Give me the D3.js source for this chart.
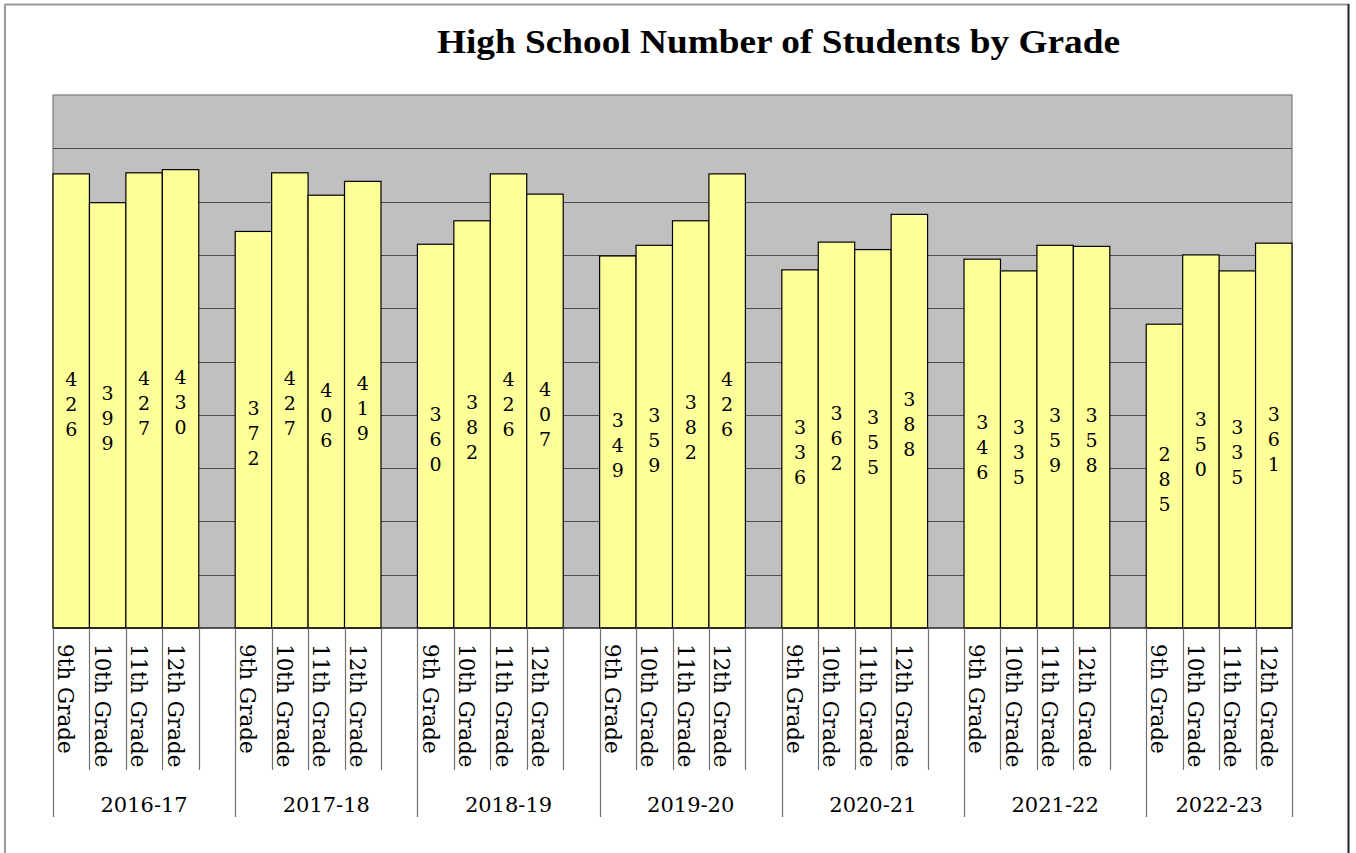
<!DOCTYPE html>
<html lang="en">
<head>
    <meta charset="UTF-8">
    <title>High School Number of Students by Grade</title>
    <script src="https://d3js.org/d3.v7.min.js"></script>
    <style>
        body { margin: 0; background: #fff; }
        svg { display: block; }
        .title { font-family: "Liberation Serif", serif; font-weight: bold; font-size: 34px; }
        .val { font-family: "DejaVu Serif", serif; font-size: 19px; }
        .cat { font-family: "DejaVu Serif", serif; font-size: 21.5px; }
        .year { font-family: "DejaVu Serif", serif; font-size: 21px; }
    </style>
</head>
<body>
<div id="chart"></div>
<script>
    // data
    const years = ["2016-17", "2017-18", "2018-19", "2019-20", "2020-21", "2021-22", "2022-23"];
    const grades = ["9th Grade", "10th Grade", "11th Grade", "12th Grade"];
    // one row per school year, columns follow grades
    const counts = [
        [426, 399, 427, 430],
        [372, 427, 406, 419],
        [360, 382, 426, 407],
        [349, 359, 382, 426],
        [336, 362, 355, 388],
        [346, 335, 359, 358],
        [285, 350, 335, 361]
    ];
    const yTicks = [0, 50, 100, 150, 200, 250, 300, 350, 400, 450, 500];

    const width = 1356, height = 853;
    const plot = { left: 53, right: 1292, top: 95, bottom: 628 };

    // flat category list, with an empty slot after every year but the last
    const cats = [];
    years.forEach((yr, i) => {
        grades.forEach((g, j) => cats.push({ key: i + "-" + j, year: i, grade: g, value: counts[i][j] }));
        if (i < years.length - 1) cats.push({ key: i + "-gap", year: i, grade: null, value: null });
    });

    const x = d3.scaleBand().domain(cats.map(d => d.key)).range([plot.left, plot.right]).padding(0);
    const y = d3.scaleLinear().domain([0, 500]).range([plot.bottom, plot.top]);

    const svg = d3.select("#chart").append("svg")
        .attr("width", width)
        .attr("height", height);

    // outer frame
    svg.append("line").attr("x1", 5).attr("x2", 1349).attr("y1", 4.5).attr("y2", 4.5)
        .attr("stroke", "#999").attr("stroke-width", 2);
    svg.append("line").attr("x1", 5).attr("x2", 5).attr("y1", 4).attr("y2", 860)
        .attr("stroke", "#999").attr("stroke-width", 2);
    svg.append("line").attr("x1", 1348.5).attr("x2", 1348.5).attr("y1", 4).attr("y2", 860)
        .attr("stroke", "#222").attr("stroke-width", 2);

    // title
    svg.append("text")
        .attr("class", "title")
        .attr("x", 437).attr("y", 53)
        .attr("textLength", 683)
        .attr("lengthAdjust", "spacingAndGlyphs")
        .text("High School Number of Students by Grade");

    // plot background
    svg.append("rect")
        .attr("x", plot.left).attr("y", plot.top)
        .attr("width", plot.right - plot.left).attr("height", plot.bottom - plot.top)
        .attr("fill", "#C0C0C0")
        .attr("stroke", "#7a7a7a").attr("stroke-width", 1.2);

    // gridlines
    svg.append("g").selectAll("line")
        .data(yTicks.filter(t => t > 0 && t < 500))
        .enter().append("line")
        .attr("x1", plot.left).attr("x2", plot.right)
        .attr("y1", d => Math.round(y(d)) + 0.5).attr("y2", d => Math.round(y(d)) + 0.5)
        .attr("stroke", "#4d4d4d").attr("stroke-width", 1.2);

    // bars
    const bars = cats.filter(d => d.value !== null);
    svg.append("g").selectAll("rect")
        .data(bars)
        .enter().append("rect")
        .attr("x", d => x(d.key))
        .attr("y", d => y(d.value))
        .attr("width", x.bandwidth())
        .attr("height", d => y(0) - y(d.value))
        .attr("fill", "#FFFF99")
        .attr("stroke", "#000")
        .attr("stroke-width", 1.2);

    // value labels, digits stacked one above the other
    const lab = svg.append("g").selectAll("text")
        .data(bars)
        .enter().append("text")
        .attr("class", "val")
        .attr("text-anchor", "middle");
    lab.each(function(d) {
        const digits = String(d.value).split("");
        const cx = x(d.key) + x.bandwidth() / 2;
        const mid = (y(d.value) + y(0)) / 2 + 10;
        const t = d3.select(this);
        digits.forEach((ch, k) => {
            t.append("tspan")
                .attr("x", cx)
                .attr("y", mid + (k - (digits.length - 1) / 2) * 25)
                .text(ch);
        });
    });

    // category axis line
    svg.append("line")
        .attr("x1", plot.left).attr("x2", plot.right)
        .attr("y1", plot.bottom).attr("y2", plot.bottom)
        .attr("stroke", "#000").attr("stroke-width", 1.2);

    // tick lines between every slot, longer at year boundaries
    const bounds = cats.map(d => x(d.key)).concat([plot.right]);
    const groupStarts = new Set();
    cats.forEach((d, i) => { if (i === 0 || d.year !== cats[i - 1].year) groupStarts.add(i); });
    svg.append("g").selectAll("line")
        .data(bounds)
        .enter().append("line")
        .attr("x1", d => Math.round(d) + 0.5).attr("x2", d => Math.round(d) + 0.5)
        .attr("y1", plot.bottom)
        .attr("y2", (d, i) => (groupStarts.has(i) || i === bounds.length - 1) ? 817 : 770)
        .attr("stroke", "#707070").attr("stroke-width", 1.2);

    // grade labels, rotated to read top to bottom
    svg.append("g").selectAll("text")
        .data(bars)
        .enter().append("text")
        .attr("class", "cat")
        .attr("transform", d => `translate(${x(d.key) + x.bandwidth() / 2 - 13},644) rotate(90)`)
        .text(d => d.grade);

    // school year labels
    svg.append("g").selectAll("text")
        .data(years)
        .enter().append("text")
        .attr("class", "year")
        .attr("text-anchor", "middle")
        .attr("x", (d, i) => {
            const g = cats.filter(c => c.year === i);
            const x0 = x(g[0].key), x1 = x(g[g.length - 1].key) + x.bandwidth();
            return (x0 + x1) / 2;
        })
        .attr("y", 812)
        .text(d => d);
</script>
</body>
</html>
